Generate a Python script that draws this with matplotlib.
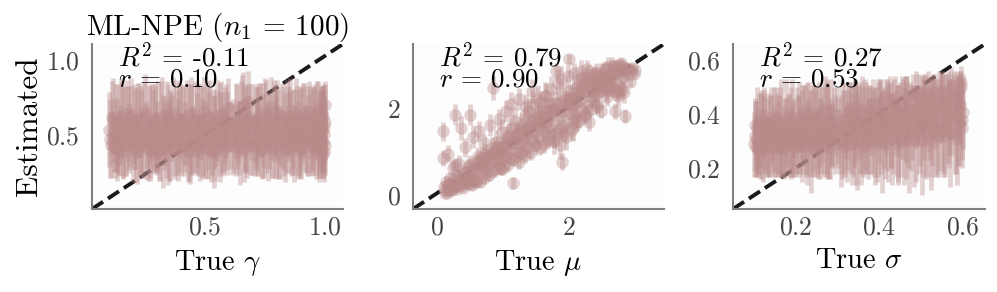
from matplotlib import pyplot as plt

plt.rcParams['font.family'] = 'cmr10'
plt.rcParams['mathtext.fontset'] = 'cm'
plt.rcParams['axes.unicode_minus'] = False
plt.rcParams['axes.formatter.use_mathtext'] = True

# === dados: gamma ===
gamma_true = [
    .102, .108, .117, .121, .133, .139, .148, .156, .161, .172, .179, .186,
    .194, .203, .209, .218, .224, .236, .241, .252, .258, .267, .273, .284,
    .291, .298, .306, .314, .322, .329, .337, .346, .351, .363, .369, .377,
    .384, .392, .401, .407, .418, .425, .433, .441, .447, .458, .466, .472,
    .483, .489, .497, .506, .513, .521, .529, .536, .544, .552, .561, .568,
    .576, .583, .591, .597, .628, .634, .642, .651, .657, .666, .673, .681,
    .689, .694, .705, .712, .719, .727, .736, .743, .751, .758, .767, .774,
    .781, .792, .798, .806, .813, .821, .829, .837, .844, .853, .859, .868,
    .874, .883, .891, .897, .906, .914, .921, .929, .936, .944, .951, .958,
    .964, .971, .976, .981, .985, .988, .991, .993, .995, .997, .998, 1.0,
    .105, .113, .125, .129, .136, .144, .152, .158, .167, .175, .183, .190,
    .199, .206, .214, .221, .229, .233, .246, .255, .262, .270, .278, .287,
    .294, .302, .310, .318, .325, .333, .341, .348, .356, .360, .373, .380,
    .388, .396, .404, .412, .421, .429, .437, .444, .452, .461, .469, .476,
    .480, .493, .501, .509, .517, .525, .532, .540, .548, .557, .564, .572,
    .580, .587, .594, .602, .607, .612, .618, .623, .631, .638, .646, .654,
    .661, .669, .677, .685, .698, .708, .715, .723, .731, .739, .747, .755,
    .762, .771, .778, .786, .795, .802, .810, .817, .825, .833, .841, .849,
    .856, .864, .871, .878, .887, .894, .902, .910, .917, .925, .932, .940,
    .948, .954, .961, .967, .973, .979, .983, .987, .990, .992, .996, .999]
gamma_est = [
    .54, .44, .60, .50, .41, .57, .47, .62, .52, .43, .58, .49,
    .64, .46, .55, .39, .60, .51, .44, .66, .48, .57, .40, .53,
    .61, .45, .56, .38, .63, .50, .42, .59, .47, .55, .65, .41,
    .52, .60, .44, .57, .49, .63, .39, .54, .46, .61, .51, .43,
    .58, .48, .66, .41, .55, .62, .45, .52, .40, .60, .49, .64,
    .44, .57, .53, .68, .42, .56, .48, .61, .70, .45, .54, .72,
    .47, .59, .43, .55, .50, .62, .41, .57, .66, .46, .53, .69,
    .44, .60, .49, .56, .39, .63, .51, .45, .58, .67, .42, .54,
    .47, .61, .52, .40, .57, .64, .45, .50, .59, .43, .55, .62,
    .48, .66, .41, .53, .58, .46, .62, .38, .51, .56, .70, .44,
    .48, .62, .42, .55, .50, .45, .59, .40, .53, .64, .46, .56,
    .42, .58, .50, .61, .44, .54, .63, .47, .41, .52, .59, .45,
    .55, .49, .40, .60, .46, .53, .64, .44, .50, .58, .42, .62,
    .47, .54, .61, .43, .56, .40, .51, .65, .48, .44, .57, .60,
    .42, .53, .47, .62, .50, .39, .58, .46, .55, .41, .63, .52,
    .47, .60, .43, .56, .50, .44, .58, .48, .60, .52, .45, .64,
    .41, .55, .49, .62, .44, .58, .47, .53, .60, .40, .50, .63,
    .46, .56, .42, .60, .51, .66, .45, .48, .55, .41, .62, .52,
    .58, .44, .50, .64, .47, .55, .42, .60, .48, .53, .66, .45,
    .52, .58, .41, .60, .49, .44, .56, .65, .46, .54, .40, .59]
gamma_err = [
    .25, .22, .28, .24, .21, .27, .23, .26, .30, .20, .25, .22,
    .24, .19, .27, .21, .25, .29, .22, .25, .20, .26, .18, .28,
    .24, .21, .30, .18, .26, .23, .20, .25, .27, .22, .24, .20,
    .28, .25, .21, .26, .23, .24, .19, .30, .22, .25, .27, .20,
    .24, .26, .23, .19, .28, .25, .21, .24, .20, .27, .30, .22,
    .21, .25, .26, .20, .19, .28, .24, .25, .22, .20, .29, .21,
    .23, .25, .20, .27, .24, .23, .19, .28, .22, .21, .25, .20,
    .22, .24, .27, .25, .18, .22, .28, .20, .25, .21, .19, .26,
    .23, .22, .29, .18, .25, .21, .20, .27, .24, .19, .28, .22,
    .24, .20, .19, .27, .23, .21, .22, .17, .25, .24, .16, .20,
    .26, .24, .20, .29, .25, .22, .28, .19, .30, .23, .21, .27,
    .23, .26, .31, .24, .20, .29, .22, .26, .21, .32, .25, .19,
    .28, .24, .20, .26, .31, .23, .22, .27, .30, .21, .19, .25,
    .27, .29, .23, .20, .26, .21, .33, .24, .22, .19, .28, .25,
    .22, .30, .26, .24, .29, .20, .23, .31, .25, .18, .22, .27,
    .21, .24, .19, .17, .22, .20, .16, .23, .25, .21, .28, .26,
    .22, .29, .27, .23, .20, .26, .24, .30, .25, .19, .28, .24,
    .26, .22, .20, .27, .30, .21, .24, .19, .28, .22, .25, .27,
    .23, .20, .31, .24, .26, .28, .21, .25, .22, .30, .20, .19,
    .29, .24, .20, .26, .30, .22, .27, .18, .24, .29, .21, .25]

# === dados: mu ===
mu_true = [
    .09, .10, .12, .14, .15, .17, .18, .20, .22, .24, .25, .27, .28, .30, .32,
    .33, .35, .37, .38, .40, .42, .44, .46, .47, .49, .50, .52, .53, .55, .57,
    .59, .60, .62, .64, .66, .68, .70, .72, .74, .76, .78, .80, .82, .85, .87,
    .89, .92, .94, .96, .98, 1.00, 1.03, 1.05, 1.07, 1.09, 1.12, 1.14, 1.16, 1.18, 1.21,
    1.23, 1.25, 1.28, 1.30, 1.32, 1.35, 1.37, 1.40, 1.42, 1.44, 1.47, 1.49, 1.51, 1.54, 1.56,
    1.58, 1.61, 1.63, 1.65, 1.68, 1.70, 1.72, 1.75, 1.77, 1.80, 1.82, 1.84, 1.87, 1.89, 1.91,
    1.94, 1.96, 1.98, 2.00, 2.03, 2.05, 2.08, 2.10, 2.12, 2.15, 2.17, 2.20, 2.22, 2.25, 2.27,
    2.30, 2.32, 2.35, 2.37, 2.40, 2.42, 2.45, 2.47, 2.50, 2.52, 2.55, 2.58, 2.60, 2.63, 2.65,
    2.68, 2.70, 2.72, 2.75, 2.78, 2.80, 2.83, 2.85, 2.88, 2.90, 2.92, 2.94, 2.96, 2.98, 3.00,
    .11, .13, .16, .19, .21, .23, .26, .29, .31, .34, .36, .39, .41, .43, .45,
    .48, .51, .54, .56, .58, .61, .63, .65, .67, .69, .71, .73, .75, .77, .79,
    .81, .83, .84, .86, .88, .90, .91, .93, .95, .97, .99, 1.01, 1.02, 1.04, 1.06,
    1.08, 1.10, 1.11, 1.13, 1.15, 1.17, 1.19, 1.20, 1.22, 1.24, 1.26, 1.27, 1.29, 1.31, 1.33,
    1.34, 1.36, 1.38, 1.39, 1.41, 1.43, 1.45, 1.46, 1.48, 1.50, 1.52, 1.53, 1.55, 1.57, 1.59,
    1.60, 1.62, 1.64, 1.66, 1.67, 1.69, 1.71, 1.73, 1.74, 1.76, 1.78, 1.79, 1.81, 1.83, 1.85,
    1.86, 1.88, 1.90, 1.92, 1.93, 1.95, 1.97, 1.99, 2.01, 2.02, 2.04, 2.06, 2.07, 2.09, 2.11,
    2.13, 2.14, 2.16, 2.18, 2.19, 2.21, 2.23, 2.24, 2.26, 2.28, 2.29, 2.31, 2.33, 2.34, 2.36,
    2.38, 2.39, 2.41, 2.43, 2.44, 2.46, 2.48, 2.49, 2.51, 2.53, 2.54, 2.56, 2.57, 2.59, 2.61,
    2.62, 2.64, 2.66, 2.67, 2.69, 2.71, 2.73, 2.74, 2.76, 2.77, 2.79, 2.81, 2.82, 2.84, 2.86]
mu_est = [
    1.47, .85, .12, .30, .05, .95, .22, .38, .10, .62, .18, .70, 1.86, .20, .45,
    .72, .28, 1.55, .36, .15, 1.10, .52, .30, .65, .40, 1.86, .58, .22, 1.35, .48,
    .75, .30, .90, 1.48, .55, .68, .80, 1.20, .60, .88, .72, 1.62, .95, 2.48, .78,
    1.05, .82, 1.75, 1.00, .60, 1.12, .90, 1.95, 1.15, .98, 2.10, 1.20, .27, 1.30, 1.02,
    1.40, 2.22, 1.18, 1.48, 1.25, 2.05, 1.38, 1.55, 1.28, 2.40, 1.50, 1.62, 1.35, 1.72, 2.15,
    1.55, 1.80, 1.45, 2.30, 1.70, 1.85, 1.58, 1.92, 1.25, 2.87, 1.82, 2.00, 1.15, .77, 1.95,
    2.10, 1.35, 2.18, 3.15, 2.05, 1.50, 2.25, 2.15, 1.72, 2.32, 2.20, 2.70, 2.38, 1.85, 2.42,
    1.70, 2.48, 2.30, 2.80, 2.52, 2.10, 2.58, 2.40, 2.65, 2.50, 2.72, 2.28, 2.68, 2.78, 2.60,
    2.75, 1.95, 2.82, 2.40, 2.85, 2.70, 2.90, 1.82, 2.78, 2.92, 2.62, 2.88, 2.95, 2.80, 2.90,
    .18, .05, .22, .10, .28, .12, .35, .20, .14, .42, .26, .32, .48, .24, .38,
    .25, .72, .34, .30, .62, .36, .78, .30, .68, .86, .40, .95, .52, .82, .46,
    .92, 1.08, .55, 1.00, .60, 1.22, .70, 1.12, .62, 1.02, 1.45, .82, .68, 1.18, 1.34,
    .72, 1.38, .88, 1.55, .82, 1.30, 1.72, .90, 1.42, .76, 1.50, .96, 1.62, 1.04, 1.85,
    .92, 1.55, 1.10, 1.95, 1.62, 1.00, 1.72, 2.08, 1.16, 1.78, 1.22, 2.20, 1.82, 1.10, 1.70,
    1.88, 1.18, 2.30, 1.36, 1.96, 1.28, 2.02, 2.45, 1.40, 2.00, 1.26, 2.10, 1.46, 2.58, 2.14,
    1.52, 2.68, 1.60, 2.20, 1.40, 2.30, 1.66, 2.75, 2.24, 1.90, 2.36, 1.58, 2.82, 1.78, 2.48,
    1.92, 2.55, 1.72, 2.46, 2.88, 1.96, 2.60, 1.86, 2.66, 2.92, 2.08, 2.72, 2.00, 2.64, 2.38,
    2.76, 2.30, 2.84, 2.06, 2.68, 2.48, 2.78, 1.95, 2.82, 2.52, 2.92, 2.46, 2.70, 2.96, 2.44,
    2.80, 2.52, 2.98, 2.48, 3.00, 2.40, 2.92, 2.30, 3.02, 2.50, 3.05, 2.44, 2.96, 2.38, 2.90]
mu_err = [
    .22, .18, .10, .14, .08, .20, .12, .16, .09, .18, .10, .15, .25, .11, .14,
    .20, .12, .28, .13, .09, .22, .16, .11, .17, .13, .24, .18, .10, .26, .14,
    .20, .12, .22, .24, .15, .16, .20, .22, .14, .18, .17, .26, .20, .28, .16,
    .22, .15, .24, .18, .13, .22, .16, .25, .20, .15, .28, .18, .14, .24, .16,
    .22, .26, .18, .24, .15, .28, .20, .22, .16, .28, .20, .24, .15, .26, .25,
    .18, .28, .16, .30, .22, .26, .15, .28, .30, .18, .22, .28, .32, .20, .24,
    .26, .30, .20, .12, .28, .22, .26, .20, .24, .28, .18, .16, .24, .18, .26,
    .22, .20, .26, .14, .24, .20, .22, .16, .18, .20, .15, .22, .16, .18, .20,
    .14, .18, .16, .18, .12, .15, .14, .16, .12, .14, .12, .11, .10, .12, .10,
    .10, .08, .12, .09, .11, .08, .14, .10, .08, .16, .12, .10, .18, .09, .14,
    .12, .20, .15, .10, .18, .14, .22, .12, .16, .24, .14, .24, .18, .20, .15,
    .20, .26, .16, .22, .18, .28, .20, .24, .16, .22, .30, .20, .18, .24, .26,
    .18, .28, .22, .30, .16, .24, .32, .20, .26, .16, .30, .22, .28, .20, .32,
    .18, .26, .24, .30, .28, .20, .26, .32, .22, .28, .20, .34, .26, .18, .24,
    .28, .20, .32, .24, .30, .20, .26, .30, .22, .28, .18, .30, .24, .34, .28,
    .22, .30, .26, .30, .18, .28, .24, .26, .30, .28, .20, .32, .24, .26, .30,
    .22, .28, .18, .26, .24, .20, .30, .22, .28, .20, .26, .30, .18, .24, .28,
    .20, .26, .22, .18, .26, .20, .28, .16, .24, .22, .18, .28, .20, .24, .18,
    .26, .16, .22, .24, .14, .22, .18, .24, .12, .20, .12, .22, .16, .24, .18]

# === dados: sigma ===
sigma_true = [
    .101, .103, .106, .109, .112, .116, .119, .123, .127, .131, .134, .138,
    .143, .147, .151, .155, .158, .163, .167, .171, .176, .179, .184, .188,
    .192, .197, .201, .205, .209, .214, .218, .222, .226, .231, .235, .239,
    .244, .248, .252, .256, .261, .265, .269, .274, .278, .282, .286, .291,
    .295, .306, .311, .315, .319, .324, .328, .332, .337, .341, .345, .349,
    .354, .358, .362, .367, .371, .375, .379, .384, .388, .392, .397, .401,
    .405, .409, .414, .418, .422, .427, .431, .435, .439, .444, .448, .452,
    .457, .461, .465, .469, .474, .478, .482, .487, .491, .495, .499, .504,
    .508, .512, .517, .521, .525, .529, .534, .538, .542, .547, .551, .555,
    .559, .564, .568, .572, .576, .581, .585, .589, .592, .595, .597, .600,
    .102, .105, .108, .111, .114, .118, .121, .125, .129, .133, .136, .140,
    .145, .149, .153, .157, .160, .165, .169, .173, .178, .181, .186, .190,
    .194, .199, .203, .207, .211, .216, .220, .224, .228, .233, .237, .241,
    .246, .250, .254, .258, .263, .267, .271, .276, .280, .284, .288, .293,
    .298, .302, .308, .313, .317, .322, .326, .330, .335, .339, .343, .347,
    .352, .356, .360, .365, .369, .373, .377, .382, .386, .390, .395, .399,
    .403, .407, .412, .416, .420, .425, .429, .433, .437, .442, .446, .450,
    .455, .459, .463, .467, .472, .476, .480, .485, .489, .493, .497, .502,
    .506, .510, .515, .519, .523, .527, .532, .536, .540, .545, .549, .553,
    .557, .562, .566, .570, .574, .579, .583, .587, .590, .593, .596, .599]
sigma_est = [
    .29, .36, .31, .27, .33, .38, .29, .34, .30, .37, .28, .32,
    .35, .30, .27, .39, .31, .34, .28, .36, .32, .29, .40, .33,
    .30, .35, .28, .38, .32, .36, .29, .41, .33, .31, .37, .28,
    .34, .39, .30, .36, .32, .42, .29, .35, .38, .31, .33, .40,
    .36, .30, .34, .28, .38, .32, .41, .35, .29, .37, .33, .43,
    .31, .36, .39, .29, .34, .42, .32, .37, .30, .40, .35, .45,
    .33, .38, .29, .36, .42, .34, .31, .44, .37, .33, .40, .30,
    .38, .46, .35, .32, .42, .37, .31, .48, .39, .34, .44, .36,
    .41, .33, .47, .38, .35, .45, .40, .34, .49, .37, .43, .32,
    .46, .39, .35, .50, .42, .33, .47, .38, .44, .52, .35, .41,
    .32, .28, .35, .30, .26, .34, .31, .37, .28, .33, .29, .36,
    .30, .34, .38, .28, .32, .35, .30, .27, .37, .33, .29, .36,
    .31, .28, .34, .39, .30, .33, .36, .28, .32, .40, .30, .35,
    .38, .29, .33, .31, .36, .28, .41, .34, .30, .37, .32, .29,
    .35, .34, .30, .38, .33, .29, .36, .42, .31, .35, .40, .30,
    .37, .33, .28, .41, .35, .31, .38, .34, .44, .32, .29, .37,
    .41, .30, .35, .39, .33, .46, .36, .31, .42, .34, .29, .38,
    .44, .32, .37, .41, .30, .35, .47, .39, .33, .42, .36, .30,
    .38, .45, .34, .40, .31, .37, .43, .35, .32, .41, .48, .36,
    .34, .44, .39, .33, .40, .47, .36, .31, .42, .37, .50, .38]
sigma_err = [
    .12, .10, .14, .10, .15, .11, .13, .15, .12, .09, .11, .15,
    .12, .13, .10, .09, .14, .16, .11, .10, .14, .12, .08, .17,
    .13, .11, .10, .09, .15, .13, .11, .10, .19, .14, .12, .11,
    .17, .10, .12, .16, .14, .09, .11, .18, .13, .15, .12, .10,
    .11, .12, .18, .10, .14, .13, .11, .17, .12, .15, .19, .08,
    .13, .18, .11, .10, .16, .09, .14, .12, .13, .10, .18, .08,
    .15, .11, .13, .17, .10, .14, .17, .09, .12, .18, .11, .13,
    .15, .08, .19, .12, .10, .14, .18, .08, .11, .16, .10, .19,
    .13, .17, .09, .15, .18, .10, .13, .16, .07, .18, .12, .14,
    .09, .17, .15, .07, .11, .15, .09, .17, .12, .06, .15, .14,
    .13, .11, .15, .12, .10, .14, .16, .13, .11, .15, .12, .14,
    .11, .16, .12, .10, .15, .18, .13, .11, .16, .14, .12, .17,
    .14, .11, .16, .13, .12, .18, .15, .11, .14, .12, .19, .16,
    .13, .12, .17, .15, .14, .11, .13, .18, .14, .16, .12, .11,
    .15, .12, .17, .11, .16, .14, .13, .09, .17, .15, .13, .18,
    .14, .19, .11, .12, .17, .15, .13, .16, .09, .18, .14, .15,
    .12, .19, .15, .14, .18, .08, .16, .13, .12, .17, .15, .14,
    .10, .18, .15, .13, .19, .16, .08, .12, .18, .13, .15, .20,
    .15, .10, .17, .14, .19, .16, .12, .18, .15, .12, .08, .19,
    .17, .11, .14, .20, .15, .09, .18, .17, .13, .16, .06, .15]

# === grafico ===
cor = '#b98a8a'

def painel(ax, x, y, e, xlim, ylim, xticks, yticks, xrotulo, r2, r, ms):
    ax.set_facecolor('#fdfdfd')
    ax.plot([0, 1], [0, 1], transform=ax.transAxes, color='#1a1a1a', lw=2.8,
            ls=(0, (3.4, 1.5)), zorder=1)
    ax.errorbar(x, y, yerr=e, fmt='o', color=cor, ms=ms, mew=0, elinewidth=3.4,
                alpha=0.38, zorder=2)
    ax.set_xlim(xlim)
    ax.set_ylim(ylim)
    ax.set_xticks(xticks)
    ax.set_yticks(yticks)
    ax.tick_params(axis='x', length=0, labelsize=18.5, labelcolor='#444444', pad=5)
    ax.tick_params(axis='y', length=0, labelsize=18.5, labelcolor='#444444', pad=9)
    ax.set_xlabel(xrotulo, fontsize=20.5, labelpad=6)
    ax.spines['top'].set_visible(False)
    ax.spines['right'].set_visible(False)
    ax.spines['left'].set_color('#808080')
    ax.spines['bottom'].set_color('#808080')
    ax.spines['left'].set_linewidth(1.5)
    ax.spines['bottom'].set_linewidth(1.5)
    ax.text(0.105, 0.865, r2, transform=ax.transAxes, fontsize=19.5, zorder=5)
    ax.text(0.105, 0.745, r, transform=ax.transAxes, fontsize=19.5, zorder=5)

fig = plt.figure(figsize=(9.97, 2.92), dpi=100)
ax1 = fig.add_axes([92 / 997, 1 - 209 / 292, 251 / 997, 165 / 292])
ax2 = fig.add_axes([413 / 997, 1 - 209 / 292, 251 / 997, 165 / 292])
ax3 = fig.add_axes([733 / 997, 1 - 209 / 292, 252 / 997, 165 / 292])

painel(ax1, gamma_true, gamma_est, gamma_err, (0.03, 1.075), (0.013, 1.107),
       [0.5, 1.0], [0.5, 1.0], r'True $\gamma$', r'$R^2$ = -0.11', r'$r$ = 0.10', 9)
painel(ax2, mu_true, mu_est, mu_err, (-0.36, 3.44), (-0.33, 3.5),
       [0, 2], [0, 2], r'True $\mu$', r'$R^2$ = 0.79', r'$r$ = 0.90', 9)
painel(ax3, sigma_true, sigma_est, sigma_err, (0.05, 0.653), (0.05, 0.66),
       [0.2, 0.4, 0.6], [0.2, 0.4, 0.6], r'True $\sigma$', r'$R^2$ = 0.27', r'$r$ = 0.53', 9)

ax1.set_ylabel('Estimated', fontsize=22.5, labelpad=2)
ax1.set_title(r'ML-NPE ($n_1$ = 100)', fontsize=21, pad=1)

fig.savefig('out.png', dpi=100)
